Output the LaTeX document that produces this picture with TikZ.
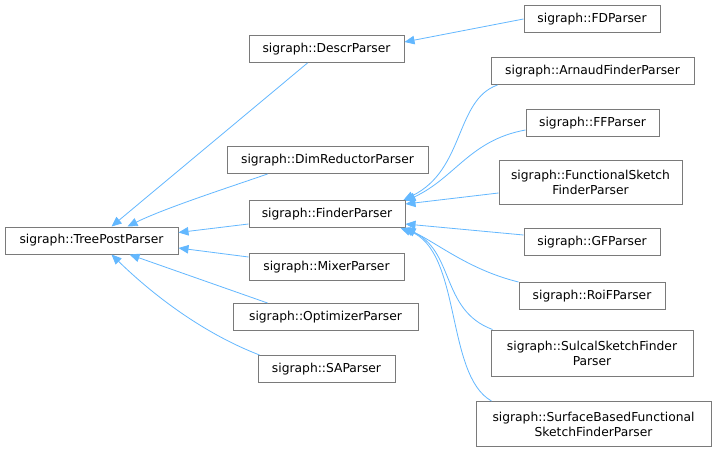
\documentclass[tikz,border=0pt]{standalone}
\usepackage{fontspec}
\setmainfont{DejaVu Sans}
\usetikzlibrary{arrows.meta}
\definecolor{edgeblue}{HTML}{63B8FF}
\definecolor{boxgray}{HTML}{7A7A7A}
\begin{document}
\begin{tikzpicture}[x=1pt,y=-1pt,
  cls/.style={draw=boxgray,line width=1pt,fill=white,inner sep=0pt,
    minimum height=27pt,align=center,
    font=\fontsize{12.3}{15}\selectfont},
  edge/.style={draw=edgeblue,line width=0.8pt,
    -{Triangle[length=10pt,width=8.5pt,fill=edgeblue]}}]
\useasboundingbox[fill=white] (0,0) rectangle (715,452);
% nodes
\node[cls,minimum width=173pt] (tpp) at (91.5,240.5) {sigraph::TreePostParser};
\node[cls,minimum width=155pt] (descr) at (326.5,49) {sigraph::DescrParser};
\node[cls,minimum width=201pt] (dimred) at (327.5,160) {sigraph::DimReductorParser};
\node[cls,minimum width=156pt] (finder) at (327,214) {sigraph::FinderParser};
\node[cls,minimum width=155pt] (mixer) at (326.5,267) {sigraph::MixerParser};
\node[cls,minimum width=185pt] (optim) at (325.5,317) {sigraph::OptimizerParser};
\node[cls,minimum width=137pt] (sa) at (326.5,369) {sigraph::SAParser};
\node[cls,minimum width=136pt] (fd) at (592,19) {sigraph::FDParser};
\node[cls,minimum width=203pt] (arnaud) at (592.5,71) {sigraph::ArnaudFinderParser};
\node[cls,minimum width=133pt] (ff) at (592.5,123) {sigraph::FFParser};
\node[cls,minimum width=183pt,minimum height=44pt] (func) at (590.5,182) {sigraph::FunctionalSketch\\FinderParser};
\node[cls,minimum width=136pt] (gf) at (592,242) {sigraph::GFParser};
\node[cls,minimum width=146pt] (roif) at (592,296) {sigraph::RoiFParser};
\node[cls,minimum width=202pt,minimum height=46pt] (sulcal) at (592,353) {sigraph::SulcalSketchFinder\\Parser};
\node[cls,minimum width=235pt,minimum height=45pt] (surf) at (593.5,424) {sigraph::SurfaceBasedFunctional\\SketchFinderParser};
% edges to TreePostParser
\draw[edge] ([xshift=-19pt]descr.south) -- ([xshift=20pt]tpp.north);
\draw[edge] ([xshift=-60pt]dimred.south) .. controls (230,187) and (165,208) .. ([xshift=36pt]tpp.north);
\draw[edge] ([yshift=-10pt]finder.west) -- ([yshift=8pt]tpp.east);
\draw[edge] ([yshift=10pt]mixer.west) -- ([yshift=-7.5pt]tpp.east);
\draw[edge] ([xshift=-58pt]optim.north) -- ([xshift=38pt]tpp.south);
\draw[edge] ([xshift=-67pt]sa.north) .. controls (200,332) and (150,292) .. ([xshift=20pt]tpp.south);
% edge to DescrParser
\draw[edge] (fd.west) -- ([yshift=7pt]descr.east);
% edges to FinderParser
\draw[edge] ([xshift=-95pt]arnaud.south) .. controls (455,100) and (465,170) .. ([xshift=-2pt]finder.north east);
\draw[edge] ([yshift=-7pt]ff.west) .. controls (470,140) and (455,178) .. ([xshift=0pt,yshift=-1pt]finder.north east);
\draw[edge] ([yshift=-11pt]func.west) -- ([yshift=10pt]finder.east);
\draw[edge] ([yshift=7pt]gf.west) -- ([yshift=-10pt]finder.east);
\draw[edge] (roif.north west) .. controls (470,270) and (440,245) .. ([xshift=0pt]finder.south east);
\draw[edge] ([xshift=2pt]sulcal.north west) .. controls (440,310) and (455,250) .. ([xshift=-2pt]finder.south east);
\draw[edge] ([xshift=16pt]surf.north west) .. controls (445,375) and (462,250) .. ([xshift=-5pt]finder.south east);
\end{tikzpicture}
\end{document}
